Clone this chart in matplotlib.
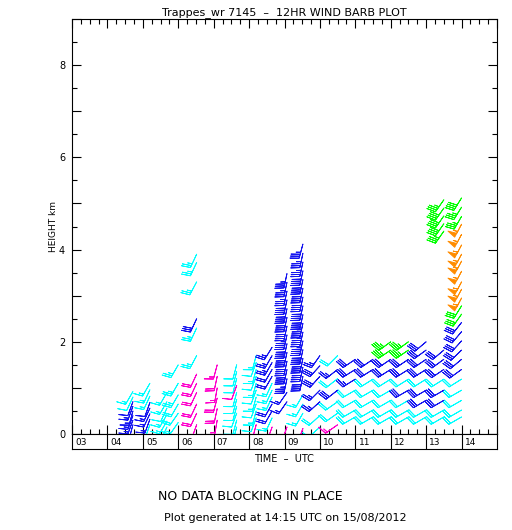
import numpy as np
import matplotlib
matplotlib.use("Agg")
import matplotlib.pyplot as plt
from matplotlib.ticker import MultipleLocator, FuncFormatter

# ---------------- data ----------------
hour_labels = ["03", "04", "05", "06", "07", "08", "09", "10", "11", "12", "13", "14"]

col_time = [4.72, 5.2, 5.68, 6.0, 6.52, 7.1, 7.65, 8.2, 8.65, 9.07, 9.52, 10.0, 10.5,
            11.0, 11.5, 12.0, 12.5, 13.0, 13.5, 14.0]

col_height = [
    [0.2, 0.3, 0.4, 0.5, 0.6, 0.7, 0.8, 0.92],
    [0.2, 0.32, 0.44, 0.56, 0.68, 0.82, 0.96, 1.1],
    [0.15, 0.28, 0.42, 0.56, 0.7, 0.9],
    [0.25, 0.45, 0.65, 0.85, 1.1, 1.5],
    [0.2, 0.45, 0.65, 0.9, 1.1, 1.3, 1.7, 2.3, 2.5, 3.3, 3.72, 3.9],
    [0.3, 0.55, 0.78, 1.0, 1.25, 1.5],
    [0.15, 0.3, 0.45, 0.6, 0.75, 0.9, 1.05, 1.2, 1.35, 1.5],
    [0.2, 0.35, 0.5, 0.65, 0.8, 0.95, 1.1, 1.25, 1.4, 1.55, 1.7],
    [0.15, 0.35, 0.5, 0.65, 0.8, 0.95, 1.1, 1.25, 1.4, 1.55, 1.7, 1.88],
    [0.15, 0.7, 0.9, 1.2, 1.4, 1.58, 1.77, 1.96, 2.15, 2.34, 2.53, 2.72, 2.91, 3.1, 3.29, 3.48],
    [0.12, 0.45, 0.65, 0.85, 1.25, 1.45, 1.64, 1.83, 2.02, 2.21, 2.4, 2.59, 2.78, 2.97,
     3.16, 3.35, 3.54, 3.73, 3.92, 4.12],
    [0.15, 0.4, 0.7, 0.95, 1.25, 1.48, 1.7],
    [0.2, 0.45, 0.7, 0.95, 1.2, 1.4, 1.7],
    [0.37, 0.52, 0.73, 0.95, 1.19, 1.4, 1.62],
    [0.37, 0.52, 0.73, 0.95, 1.19, 1.4, 1.62],
    [0.37, 0.52, 0.73, 0.95, 1.19, 1.4, 1.62, 1.82, 2.0],
    [0.37, 0.52, 0.73, 0.95, 1.19, 1.4, 1.62, 1.82, 2.0],
    [0.37, 0.52, 0.73, 0.95, 1.19, 1.4, 1.62, 1.82, 2.0],
    [0.37, 0.52, 0.73, 0.95, 1.19, 1.4, 1.62, 1.82, 4.4, 4.56, 4.73, 4.9, 5.08],
    [0.37, 0.52, 0.73, 0.95, 1.19, 1.4, 1.62, 1.82, 2.02, 2.22, 2.42, 2.6, 2.78,
     2.95, 3.14, 3.3, 3.53, 3.75, 3.9, 4.1, 4.33, 4.55, 4.72, 4.92, 5.12],
]

col_speed = [
    [10, 15, 15, 15, 15, 10, 10, 15],
    [10, 15, 15, 15, 10, 15, 15, 15],
    [10, 15, 15, 10, 15, 15],
    [15, 20, 20, 25, 25, 25],
    [10, 20, 20, 20, 20, 20, 25, 25, 30, 25, 25, 25],
    [15, 20, 20, 15, 20, 15],
    [10, 10, 10, 10, 10, 10, 10, 10, 10, 10],
    [10, 10, 15, 10, 15, 10, 15, 10, 15, 10, 15],
    [10, 15, 20, 20, 15, 15, 15, 20, 20, 25, 25, 25],
    [10, 15, 15, 35, 40, 40, 40, 40, 45, 40, 40, 40, 40, 35, 35, 35],
    [10, 15, 15, 15, 40, 40, 40, 40, 45, 45, 45, 40, 40, 40, 40, 40, 40, 35, 35, 35],
    [10, 20, 25, 25, 30, 30, 25],
    [15, 20, 20, 30, 20, 25, 20],
    [20, 20, 20, 20, 25, 30, 30],
    [20, 20, 20, 20, 20, 30, 30],
    [20, 20, 20, 20, 20, 30, 30, 35, 35],
    [20, 20, 20, 30, 20, 30, 30, 35, 35],
    [20, 20, 30, 30, 20, 30, 30, 30, 30],
    [20, 20, 30, 30, 20, 30, 30, 30, 35, 40, 40, 40, 35],
    [20, 20, 20, 20, 20, 30, 30, 30, 30, 30, 30, 30, 30,
     55, 55, 55, 55, 55, 55, 55, 55, 55, 35, 35, 40],
]

col_dir = [
    [195, 200, 200, 195, 200, 200, 205, 210],
    [200, 200, 205, 205, 200, 205, 205, 210],
    [205, 210, 210, 205, 210, 210],
    [215, 215, 210, 210, 210, 210],
    [200, 205, 205, 205, 205, 205, 208, 205, 205, 208, 205, 205],
    [190, 192, 195, 190, 192, 195],
    [195, 195, 200, 195, 195, 195, 200, 195, 195, 195],
    [195, 200, 195, 200, 195, 200, 195, 200, 195, 200, 195],
    [200, 205, 210, 210, 205, 205, 205, 210, 210, 210, 210, 212],
    [200, 215, 215, 192, 192, 192, 192, 192, 192, 192, 192, 192, 192, 192, 192, 192],
    [200, 210, 210, 210, 192, 192, 192, 192, 192, 192, 192, 192, 192, 192, 192, 192,
     192, 192, 192, 195],
    [228, 228, 228, 225, 222, 222, 215],
    [235, 235, 235, 232, 232, 232, 225],
    [240, 240, 240, 240, 238, 238, 236],
    [240, 240, 240, 240, 238, 238, 236],
    [240, 240, 240, 240, 238, 238, 236, 236, 234],
    [240, 240, 240, 240, 238, 238, 236, 236, 234],
    [240, 240, 240, 240, 238, 238, 236, 234, 230],
    [240, 240, 240, 240, 238, 236, 234, 230, 215, 215, 215, 215, 215],
    [240, 240, 240, 240, 238, 234, 230, 226, 222, 220, 218, 215, 212,
     208, 208, 208, 208, 208, 208, 208, 208, 208, 210, 212, 212],
]

col_color = [
    "bbbbbbcc",
    "cbbbbccc",
    "cccccc",
    "cccccc",
    "mmmmmmccbccc",
    "mmmmmm",
    "ccccccmccc",
    "mcccccccccc",
    "mcbbcccbbbbb",
    "mbb" + "bbbbbbbbbbbbb",
    "mccc" + "bbbbbbbbbbbbbbbb",
    "ccbbbbb",
    "mccbcbc",
    "ccccbbb",
    "cccccbb",
    "cccccbbgg",
    "cccbcbbgg",
    "ccbbcbbbb",
    "ccbbcbbbggggg",
    "cccccbbbbbbgg" + "ooooooooo" + "ggg",
]

palette = {"c": "#00FFFF", "b": "#1414F0", "m": "#FF00CC", "g": "#00FF00", "o": "#FF8C00"}

# ---------------- figure ----------------
W, H = 512, 530
fig = plt.figure(figsize=(W / 100, H / 100), dpi=100)
fig.patch.set_facecolor("white")

def fx(px):
    return px / W

def fy(py):
    return 1 - py / H

ax = fig.add_axes([fx(72), fy(434), fx(497) - fx(72), fy(19) - fy(434)])
ax.set_xlim(3, 15)
ax.set_ylim(0, 9)

ax.xaxis.set_major_locator(MultipleLocator(1))
ax.xaxis.set_minor_locator(MultipleLocator(0.25))
ax.yaxis.set_major_locator(MultipleLocator(1))
ax.yaxis.set_minor_locator(MultipleLocator(0.5))
ax.tick_params(axis="both", which="both", direction="in", top=True, right=True,
               color="black", width=0.8)
ax.tick_params(axis="both", which="major", length=6.5)
ax.tick_params(axis="both", which="minor", length=3.6)
ax.tick_params(axis="x", labelbottom=False)
ax.tick_params(axis="y", labelsize=7, pad=5)
ax.yaxis.set_major_formatter(FuncFormatter(lambda v, p: "%d" % v if int(round(v)) % 2 == 0 else ""))
for s in ax.spines.values():
    s.set_linewidth(0.8)

bsizes = dict(spacing=0.14, height=0.6, width=0.3, emptybarb=0.05)
for code, colr in palette.items():
    xs, ys, us, vs = [], [], [], []
    for t, hs, ss, ds, cs in zip(col_time, col_height, col_speed, col_dir, col_color):
        for h, s, d, c in zip(hs, ss, ds, cs):
            if c == code:
                r = np.deg2rad(d)
                xs.append(t)
                ys.append(h)
                us.append(-s * np.sin(r))
                vs.append(-s * np.cos(r))
    if xs:
        ax.barbs(xs, ys, us, vs, length=4.6, pivot="tip", barbcolor=colr, flagcolor=colr,
                 linewidth=0.65, sizes=bsizes, clip_on=False, zorder=3)

ax.set_title("Trappes_wr 7145  \u2013  12HR WIND BARB PLOT", fontsize=8, pad=3)

# label strip under the axis
ax2 = fig.add_axes([fx(72), fy(449), fx(497) - fx(72), fy(434) - fy(449)])
ax2.set_xlim(3, 15)
ax2.set_ylim(0, 1)
ax2.set_xticks([])
ax2.set_yticks([])
for s in ax2.spines.values():
    s.set_linewidth(0.8)
for i, lab in enumerate(hour_labels):
    hr = 3 + i
    if i > 0:
        ax2.axvline(hr, color="black", linewidth=0.8)
    ax2.text(hr + 0.09, 0.45, lab, fontsize=6.5, ha="left", va="center")

fig.text(fx(54), fy(226), "HEIGHT km", rotation=90, fontsize=6.5, ha="center", va="center")
fig.text(fx(284), fy(459), "TIME  \u2013  UTC", fontsize=7, ha="center", va="center")
fig.text(fx(250), fy(497), "NO DATA BLOCKING IN PLACE", fontsize=9, ha="center", va="center")
fig.text(fx(285), fy(518), "Plot generated at 14:15 UTC on 15/08/2012", fontsize=8,
         ha="center", va="center")

fig.savefig("out.png", dpi=100, facecolor="white")
